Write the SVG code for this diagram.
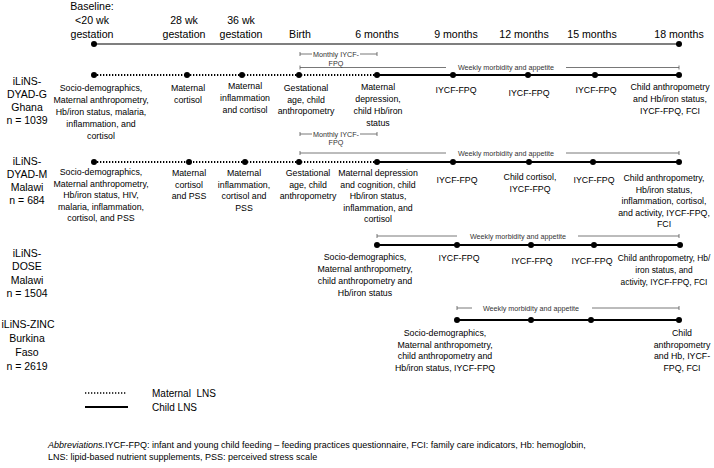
<svg xmlns="http://www.w3.org/2000/svg" width="714" height="468" viewBox="0 0 714 468">
<style>
text{font-family:"Liberation Sans",Arial,sans-serif;fill:#000;text-anchor:middle}
.h{font-size:10.6px}
.l{font-size:8.8px}
.ls{font-size:8.4px}
.r{font-size:10.5px}
.s{font-size:7.2px;fill:#333}
.g{font-size:10px;text-anchor:start}
.a{font-size:9px;text-anchor:start}
.tl{stroke:#000;stroke-width:1.1;fill:none}
.child{stroke:#000;stroke-width:2.2;fill:none}
.mat{stroke:#000;stroke-width:2.2;stroke-dasharray:1.3 1.7;fill:none}
.br{stroke:#555;stroke-width:0.8;fill:none}
circle{fill:#000}
</style>
<defs>
<circle id="d" r="3"/>
</defs>
<rect width="714" height="468" fill="#fff"/>

<g id="header">
<text class="h" x="92" y="10">Baseline:</text>
<text class="h" x="92" y="24">&lt;20 wk</text>
<text class="h" x="92" y="38">gestation</text>
<text class="h" x="184" y="24">28 wk</text>
<text class="h" x="184" y="38">gestation</text>
<text class="h" x="241" y="24">36 wk</text>
<text class="h" x="241" y="38">gestation</text>
<text class="h" x="300" y="38">Birth</text>
<text class="h" x="377" y="38">6 months</text>
<text class="h" x="456" y="38">9 months</text>
<text class="h" x="524" y="38">12 months</text>
<text class="h" x="592" y="38">15 months</text>
<text class="h" x="679" y="38">18 months</text>
</g>

<g id="connectors">
<line class="tl" x1="94" y1="44" x2="679" y2="44"/>
<line class="mat" x1="94" y1="75" x2="377" y2="75"/>
<line class="child" x1="377" y1="75" x2="679" y2="75"/>
<path class="br" d="M300 52V56M300 54H312M360 54H377M377 52V56"/>
<path class="br" d="M300 65.5V69.5M300 67.5H446M566 67.5H679M679 65.5V69.5"/>
<line class="mat" x1="94" y1="162" x2="377" y2="162"/>
<line class="child" x1="377" y1="162" x2="679" y2="162"/>
<path class="br" d="M300 132V136M300 134H312M360 134H377M377 132V136"/>
<path class="br" d="M300 151V155M300 153H446M566 153H679M679 151V155"/>
<line class="child" x1="377" y1="245" x2="680" y2="245"/>
<path class="br" d="M377 234V238M377 236H457M578 236H679M679 234V238"/>
<line class="child" x1="457" y1="320" x2="679" y2="320"/>
<path class="br" d="M457 306V310M457 308H472M592 308H679M679 306V310"/>
<line class="mat" x1="85" y1="393" x2="127" y2="393" style="stroke-width:1.6"/>
<line class="child" x1="85" y1="407" x2="128" y2="407" style="stroke-width:2"/>
</g>

<g id="bracket-labels">
<text class="s" x="336" y="56.5">Monthly IYCF-</text>
<text class="s" x="336" y="65.5">FPQ</text>
<text class="s" x="506" y="70">Weekly morbidity and appetite</text>
<text class="s" x="336" y="136.5">Monthly IYCF-</text>
<text class="s" x="336" y="145">FPQ</text>
<text class="s" x="506" y="155.5">Weekly morbidity and appetite</text>
<text class="s" x="518" y="238.5">Weekly morbidity and appetite</text>
<text class="s" x="531" y="310.5">Weekly morbidity and appetite</text>
</g>

<g id="timeline-ends">
<use href="#d" x="94" y="44"/>
<use href="#d" x="679" y="44"/>
</g>

<g id="study-ghana">
<text class="r" x="27" y="85">iLiNS-</text>
<text class="r" x="27" y="98">DYAD-G</text>
<text class="r" x="27" y="111">Ghana</text>
<text class="r" x="27" y="124">n = 1039</text>
</g>
<g id="g-base"><use href="#d" x="94" y="75"/>
<text class="l" x="101" y="91">Socio-demographics,</text>
<text class="l" x="101" y="103">Maternal anthropometry,</text>
<text class="l" x="101" y="115">Hb/iron status, malaria,</text>
<text class="l" x="101" y="127">inflammation, and</text>
<text class="l" x="101" y="139">cortisol</text></g>
<g id="g-28"><use href="#d" x="187" y="75"/>
<text class="l" x="188" y="91">Maternal</text>
<text class="l" x="188" y="103">cortisol</text></g>
<g id="g-36"><use href="#d" x="242" y="75"/>
<text class="l" x="245" y="89">Maternal</text>
<text class="l" x="245" y="101">inflammation</text>
<text class="l" x="245" y="113">and cortisol</text></g>
<g id="g-birth"><use href="#d" x="299" y="75"/>
<text class="l" x="306" y="91">Gestational</text>
<text class="l" x="306" y="102.5">age, child</text>
<text class="l" x="306" y="114">anthropometry</text></g>
<g id="g-6"><use href="#d" x="377" y="75"/>
<text class="l" x="378" y="90">Maternal</text>
<text class="l" x="378" y="102">depression,</text>
<text class="l" x="378" y="114">child Hb/iron</text>
<text class="l" x="378" y="126">status</text></g>
<g id="g-9"><use href="#d" x="453" y="75"/>
<text class="l" x="456" y="93">IYCF-FPQ</text></g>
<g id="g-12"><use href="#d" x="528" y="75"/>
<text class="l" x="529" y="96">IYCF-FPQ</text></g>
<g id="g-15"><use href="#d" x="595" y="75"/>
<text class="l" x="596" y="93">IYCF-FPQ</text></g>
<g id="g-18"><use href="#d" x="679" y="75"/>
<text class="l" x="670" y="90">Child anthropometry</text>
<text class="l" x="670" y="102">and Hb/iron status,</text>
<text class="l" x="670" y="114">IYCF-FPQ, FCI</text></g>

<g id="study-malawi-dyad">
<text class="r" x="27" y="165">iLiNS-</text>
<text class="r" x="27" y="178">DYAD-M</text>
<text class="r" x="27" y="191">Malawi</text>
<text class="r" x="27" y="204">n = 684</text>
</g>
<g id="m-base"><use href="#d" x="94" y="162"/>
<text class="l" x="101" y="175">Socio-demographics,</text>
<text class="l" x="101" y="186.5">Maternal anthropometry,</text>
<text class="l" x="101" y="198">Hb/iron status, HIV,</text>
<text class="l" x="101" y="209.5">malaria, inflammation,</text>
<text class="l" x="101" y="221">cortisol, and PSS</text></g>
<g id="m-28"><use href="#d" x="189" y="162"/>
<text class="l" x="189" y="176">Maternal</text>
<text class="l" x="189" y="187.5">cortisol</text>
<text class="l" x="189" y="199">and PSS</text></g>
<g id="m-36"><use href="#d" x="245" y="162"/>
<text class="l" x="244" y="176">Maternal</text>
<text class="l" x="244" y="187.5">inflammation,</text>
<text class="l" x="244" y="199">cortisol and</text>
<text class="l" x="244" y="210.5">PSS</text></g>
<g id="m-birth"><use href="#d" x="299" y="162"/>
<text class="l" x="308" y="176">Gestational</text>
<text class="l" x="308" y="187.5">age, child</text>
<text class="l" x="308" y="199">anthropometry</text></g>
<g id="m-6"><use href="#d" x="377" y="162"/>
<text class="l" x="378" y="176">Maternal depression</text>
<text class="l" x="378" y="187.5">and cognition, child</text>
<text class="l" x="378" y="199">Hb/iron status,</text>
<text class="l" x="378" y="210.5">inflammation, and</text>
<text class="l" x="378" y="222">cortisol</text></g>
<g id="m-9"><use href="#d" x="453" y="162"/>
<text class="l" x="457" y="183">IYCF-FPQ</text></g>
<g id="m-12"><use href="#d" x="529" y="162"/>
<text class="l" x="530" y="180">Child cortisol,</text>
<text class="l" x="530" y="192">IYCF-FPQ</text></g>
<g id="m-15"><use href="#d" x="593" y="162"/>
<text class="l" x="594" y="183">IYCF-FPQ</text></g>
<g id="m-18"><use href="#d" x="679" y="162"/>
<text class="l" x="664" y="181">Child anthropometry,</text>
<text class="l" x="664" y="192.5">Hb/iron status,</text>
<text class="l" x="664" y="204">inflammation, cortisol,</text>
<text class="l" x="664" y="215.5">and activity, IYCF-FPQ,</text>
<text class="l" x="664" y="227">FCI</text></g>

<g id="study-dose">
<text class="r" x="27" y="256.5">iLiNS-</text>
<text class="r" x="27" y="270">DOSE</text>
<text class="r" x="27" y="283.5">Malawi</text>
<text class="r" x="27" y="297">n = 1504</text>
</g>
<g id="d-6"><use href="#d" x="377" y="245"/>
<text class="l" x="365" y="260">Socio-demographics,</text>
<text class="l" x="365" y="272">Maternal anthropometry,</text>
<text class="l" x="365" y="284">child anthropometry and</text>
<text class="l" x="365" y="296">Hb/iron status</text></g>
<g id="d-9"><use href="#d" x="457" y="245"/>
<text class="l" x="459" y="261">IYCF-FPQ</text></g>
<g id="d-12"><use href="#d" x="531" y="245"/>
<text class="l" x="532" y="264">IYCF-FPQ</text></g>
<g id="d-15"><use href="#d" x="594" y="245"/>
<text class="l" x="592" y="264">IYCF-FPQ</text></g>
<g id="d-18"><use href="#d" x="680" y="245"/>
<text class="ls" x="664" y="261">Child anthropometry, Hb/</text>
<text class="ls" x="664" y="273">iron status, and</text>
<text class="ls" x="664" y="285">activity, IYCF-FPQ, FCI</text></g>

<g id="study-zinc">
<text class="r" x="28" y="327.5">iLiNS-ZINC</text>
<text class="r" x="27" y="342">Burkina</text>
<text class="r" x="27" y="356">Faso</text>
<text class="r" x="27" y="370">n = 2619</text>
</g>
<g id="z-9"><use href="#d" x="457" y="320"/>
<text class="l" x="445" y="336">Socio-demographics,</text>
<text class="l" x="445" y="347.5">Maternal anthropometry,</text>
<text class="l" x="445" y="359">child anthropometry and</text>
<text class="l" x="445" y="370.5">Hb/iron status, IYCF-FPQ</text></g>
<g id="z-12"><use href="#d" x="531" y="320"/></g>
<g id="z-15"><use href="#d" x="591" y="320"/></g>
<g id="z-18"><use href="#d" x="679" y="320"/>
<text class="l" x="682" y="336">Child</text>
<text class="l" x="682" y="347.5">anthropometry</text>
<text class="l" x="682" y="359">and Hb, IYCF-</text>
<text class="l" x="682" y="370.5">FPQ, FCI</text></g>

<g id="legend">
<text class="g" x="152" y="396.5">Maternal&#160; LNS</text>
<text class="g" x="152" y="410.5">Child LNS</text>
</g>

<g id="abbreviations">
<text class="a" x="48" y="448"><tspan font-style="italic">Abbreviations.</tspan>IYCF-FPQ: infant and young child feeding – feeding practices questionnaire, FCI: family care indicators, Hb: hemoglobin,</text>
<text class="a" x="48" y="460">LNS: lipid-based nutrient supplements, PSS: perceived stress scale</text>
</g>
</svg>
